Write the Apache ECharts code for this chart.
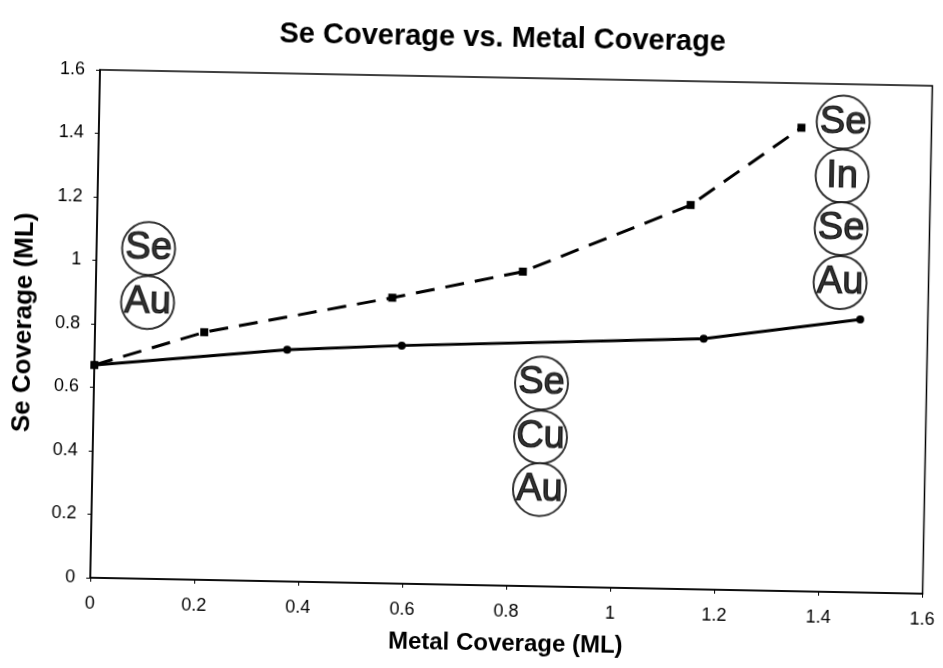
<!DOCTYPE html>
<html>
<head>
<meta charset="utf-8">
<script src="https://cdn.jsdelivr.net/npm/echarts@6/dist/echarts.min.js"></script>
<style>
  html, body { margin: 0; padding: 0; background: #fff; overflow: hidden; width: 943px; height: 668px; }
  #chart { width: 943px; height: 668px; transform: rotate(1.1deg); transform-origin: 50% 50%; }
</style>
</head>
<body>
<div id="chart"></div>
<script>
// ---- data ----
const dashedMetal = [0, 0.21, 0.57, 0.82, 1.14, 1.35];
const dashedSe    = [0.67, 0.78, 0.90, 0.99, 1.21, 1.46];
const solidMetal  = [0, 0.37, 0.59, 1.17, 1.47];
const solidSe     = [0.67, 0.73, 0.75, 0.79, 0.86];
const xTickLabels = ['0', '0.2', '0.4', '0.6', '0.8', '1', '1.2', '1.4', '1.6'];
const yTickLabels = ['0', '0.2', '0.4', '0.6', '0.8', '1', '1.2', '1.4', '1.6'];
// atom-stack annotations
const atomNames = ['Se', 'Au', 'Se', 'Cu', 'Au', 'Se', 'In', 'Se', 'Au'];
const atomX     = [0.10, 0.10, 0.86, 0.86, 0.86, 1.43, 1.43, 1.43, 1.43];
const atomY     = [1.04, 0.87, 0.64, 0.47, 0.305, 1.48, 1.31, 1.145, 0.975];

const FONT = 'Liberation Sans, Arial, sans-serif';
const chart = echarts.init(document.getElementById('chart'), null, { renderer: 'canvas' });

const zip = (xs, ys) => xs.map((x, i) => [x, ys[i]]);
const atomData = atomNames.map((n, i) => ({ name: n, value: [atomX[i], atomY[i]] }));

chart.setOption({
  backgroundColor: '#fff',
  animation: false,
  title: {
    text: 'Se Coverage vs. Metal Coverage',
    left: 492, textAlign: 'center', top: 18,
    textStyle: { fontFamily: FONT, fontSize: 29, fontWeight: 'bold', color: '#000' }
  },
  grid: {
    left: 95, right: 12, top: 77, bottom: 83,
    show: true, borderColor: '#000', borderWidth: 1.5, backgroundColor: 'transparent'
  },
  xAxis: {
    type: 'value', min: 0, max: 1.6, interval: 0.2,
    name: 'Metal Coverage (ML)', nameLocation: 'middle', nameGap: 46,
    nameTextStyle: { fontFamily: FONT, fontSize: 24, fontWeight: 'bold', color: '#000' },
    axisLine: { show: true, lineStyle: { color: '#000', width: 1.5 } },
    axisTick: { show: true, length: 4, lineStyle: { color: '#000' } },
    splitLine: { show: false },
    axisLabel: {
      margin: 17, fontFamily: FONT, fontSize: 18, color: '#000',
      formatter: (v) => xTickLabels[Math.round(v / 0.2)]
    }
  },
  yAxis: {
    type: 'value', min: 0, max: 1.6, interval: 0.2,
    name: 'Se Coverage (ML)', nameLocation: 'middle', nameGap: 58,
    nameTextStyle: { fontFamily: FONT, fontSize: 26, fontWeight: 'bold', color: '#000' },
    axisLine: { show: true, lineStyle: { color: '#000', width: 1.5 } },
    axisTick: { show: true, length: 4, lineStyle: { color: '#000' } },
    splitLine: { show: false },
    axisLabel: {
      margin: 15, fontFamily: FONT, fontSize: 18, color: '#000',
      formatter: (v) => yTickLabels[Math.round(v / 0.2)]
    }
  },
  series: [
    {
      type: 'line', name: 'dashed', data: zip(dashedMetal, dashedSe),
      symbol: 'rect', symbolSize: 8, showSymbol: true,
      lineStyle: { color: '#000', width: 3, type: [19, 11] },
      itemStyle: { color: '#000' }, z: 3
    },
    {
      type: 'line', name: 'solid', data: zip(solidMetal, solidSe),
      symbol: 'circle', symbolSize: 8, showSymbol: true,
      lineStyle: { color: '#000', width: 3 },
      itemStyle: { color: '#000' }, z: 4
    },
    {
      type: 'scatter', name: 'atoms', data: atomData,
      symbol: 'circle', symbolSize: 53,
      itemStyle: { color: '#fff', borderColor: '#000', borderWidth: 2 },
      label: {
        show: true, position: 'inside', formatter: (p) => p.name,
        fontFamily: FONT, fontSize: 38, color: '#000',
        textBorderColor: '#000', textBorderWidth: 1.2
      },
      emphasis: { disabled: true }, z: 5
    }
  ]
});
</script>
</body>
</html>
